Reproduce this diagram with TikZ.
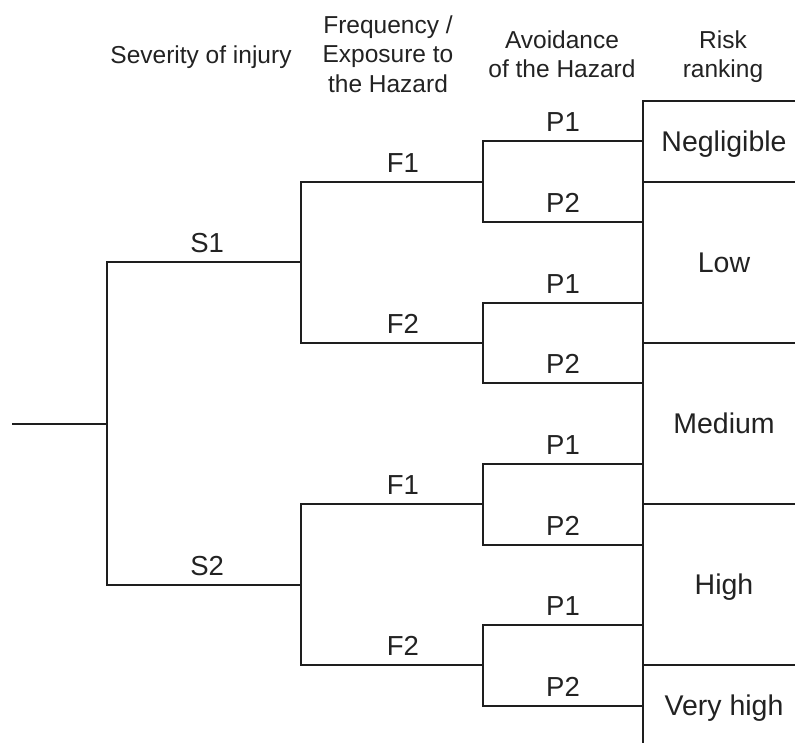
\documentclass[tikz,border=0pt]{standalone}
\usepackage{fontspec}
\setmainfont{Liberation Sans}
\definecolor{ink}{HTML}{1E1E1E}
\definecolor{txt}{HTML}{222222}
\newcommand\hdrfont{\fontsize{24.5}{29.5}\selectfont}
\newcommand\labfont{\fontsize{27.5}{33}\selectfont}
\newcommand\cellfont{\fontsize{28.5}{34}\selectfont}
\begin{document}
\begin{tikzpicture}[x=1pt,y=-1pt,
  br/.style={draw=ink, line width=2pt},
  lab/.style={font=\labfont, text=txt, anchor=base, yshift=9.5pt, inner sep=0pt},
  hdr/.style={font=\hdrfont, text=txt, align=center, anchor=north, inner sep=0pt},
  cell/.style={draw=ink, line width=2pt, font=\cellfont, text=txt,
    minimum width=162pt, inner sep=0pt, text height=19.6pt, text depth=0pt},
  rowone/.style={cell, minimum height=80.6pt},
  rowtwo/.style={cell, minimum height=161.2pt}]
\useasboundingbox (0,0) rectangle (795,743);
\clip (0,0) rectangle (795,743);

% column headings
\node[hdr] (hsev) at (201,45.6) {Severity of injury};
\node[hdr] (hfreq) at (388,15.5) {Frequency /\\Exposure to\\the Hazard};
\node[hdr] (havoid) at (562,30.5) {Avoidance\\of the Hazard};
\node[hdr] (hrisk) at (723,30.5) {Risk\\ranking};

% risk ranking column
\node[rowone] (neg) at (724,141.5) {Negligible};
\node[rowtwo] (low) at (724,262.4) {Low};
\node[rowtwo] (med) at (724,423.6) {Medium};
\node[rowtwo] (high) at (724,584.8) {High};
\node[rowone] (vhigh) at (724,705.7) {Very high};

% branch points
\coordinate (r0) at (12,423.6);
\coordinate (js) at (107,423.6);
\coordinate (s1) at (301,262.4);
\coordinate (s2) at (301,584.8);
\coordinate (f11) at (483,181.8);
\coordinate (f12) at (483,343.0);
\coordinate (f21) at (483,504.2);
\coordinate (f22) at (483,665.4);
\coordinate (p1) at (643,141.5);
\coordinate (p2) at (643,222.1);
\coordinate (p3) at (643,302.7);
\coordinate (p4) at (643,383.3);
\coordinate (p5) at (643,463.9);
\coordinate (p6) at (643,544.5);
\coordinate (p7) at (643,625.1);
\coordinate (p8) at (643,705.7);

% severity
\draw[br] (r0) -- (js);
\draw[br] (js) |- node[lab,pos=0.758]{S1} (s1);
\draw[br] (js) |- node[lab,pos=0.758]{S2} (s2);

% frequency / exposure
\draw[br] (s1) |- node[lab,pos=0.78]{F1} (f11);
\draw[br] (s1) |- node[lab,pos=0.78]{F2} (f12);
\draw[br] (s2) |- node[lab,pos=0.78]{F1} (f21);
\draw[br] (s2) |- node[lab,pos=0.78]{F2} (f22);

% avoidance
\draw[br] (f11) |- node[lab,pos=0.75]{P1} (p1);
\draw[br] (f11) |- node[lab,pos=0.75]{P2} (p2);
\draw[br] (f12) |- node[lab,pos=0.75]{P1} (p3);
\draw[br] (f12) |- node[lab,pos=0.75]{P2} (p4);
\draw[br] (f21) |- node[lab,pos=0.75]{P1} (p5);
\draw[br] (f21) |- node[lab,pos=0.75]{P2} (p6);
\draw[br] (f22) |- node[lab,pos=0.75]{P1} (p7);
\draw[br] (f22) |- node[lab,pos=0.75]{P2} (p8);
\end{tikzpicture}
\end{document}
